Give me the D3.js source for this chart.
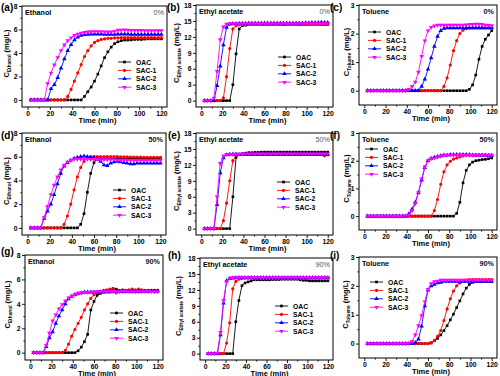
<!DOCTYPE html>
<html>
<head>
<meta charset="utf-8">
<script src="https://cdn.jsdelivr.net/npm/d3@7"></script>
<style>
  body { margin: 0; background: #fff; }
  svg { display: block; font-family: "Liberation Sans", Arial, sans-serif; font-weight: bold; }
</style>
</head>
<body>
<svg id="chart" width="500" height="376"></svg>
<script>
"use strict";

// sampling times (min), shared by every curve
var times = [3,6,9,12,15,18,21,24,27,30,33,36,39,42,45,48,51,54,57,60,
             63,66,69,72,75,78,81,84,87,90,93,96,99,102,105,108,111,114,117,120];
var seriesNames = ["OAC", "SAC-1", "SAC-2", "SAC-3"];
var seriesColors = ["#000000", "#ff0000", "#0000ff", "#ff00ff"];
var panelLabels = ["(a)", "(b)", "(c)", "(d)", "(e)", "(f)", "(g)", "(h)", "(i)"];
var humidity = ["0%", "0%", "0%", "50%", "50%", "50%", "90%", "90%", "90%"];
var xTicks = [0, 20, 40, 60, 80, 100, 120];
var ethanolTicks = [0, 2, 4, 6, 8];
var ethylTicks = [0, 3, 6, 9, 12, 15, 18];
var tolueneTicks = [0, 1, 2, 3];

// (a) ethanol, 0%
var eth0_OAC  = [0,0,0,0,0,0,0,0,0,0,0,0,0,0,0,0,0.3,0.7,1.1,1.6,2.2,2.9,3.6,4.1,4.5,4.8,4.95,5.05,5.1,5.1,5.12,5.15,5.15,5.15,5.18,5.2,5.2,5.2,5.2,5.2];
var eth0_SAC1 = [0,0,0,0,0,0,0,0,0,0,0,0.3,0.9,1.6,2.3,3.0,3.7,4.2,4.6,4.9,5.05,5.15,5.2,5.25,5.25,5.28,5.28,5.3,5.3,5.3,5.3,5.3,5.3,5.3,5.3,5.3,5.3,5.3,5.3,5.3];
var eth0_SAC2 = [0,0,0,0,0,0,0.95,1.3,1.9,2.7,3.5,4.2,4.7,5.1,5.35,5.5,5.55,5.58,5.6,5.6,5.6,5.6,5.58,5.58,5.58,5.58,5.6,5.6,5.6,5.6,5.58,5.58,5.58,5.58,5.58,5.58,5.58,5.58,5.58,5.58];
var eth0_SAC3 = [0,0,0,0,0,1.4,2.3,3.0,3.6,4.2,4.7,5.05,5.3,5.5,5.6,5.7,5.75,5.8,5.82,5.82,5.83,5.83,5.8,5.8,5.8,5.85,5.95,5.95,5.97,5.95,5.93,5.93,5.92,5.92,5.9,5.9,5.9,5.9,5.9,5.9];

// (b) ethyl acetate, 0%
var eac0_OAC  = [0,0,0,0,0,0,0,0,0,3.0,8.8,13.5,14.1,14.2,14.3,14.3,14.3,14.3,14.3,14.3,14.3,14.3,14.3,14.3,14.3,14.3,14.3,14.3,14.3,14.3,14.3,14.3,14.3,14.3,14.3,14.3,14.3,14.3,14.3,14.3];
var eac0_SAC1 = [0,0,0,0,0,0,0.5,4.5,9.8,13.5,14.1,14.3,14.35,14.35,14.35,14.35,14.35,14.35,14.35,14.35,14.35,14.35,14.35,14.35,14.35,14.35,14.35,14.35,14.35,14.35,14.35,14.35,14.35,14.35,14.35,14.35,14.35,14.35,14.35,14.35];
var eac0_SAC2 = [0,0,0,0,2.8,6.5,10.5,13.8,14.4,14.5,14.5,14.55,14.55,14.55,14.6,14.6,14.6,14.6,14.6,14.6,14.6,14.6,14.6,14.6,14.6,14.6,14.6,14.6,14.6,14.6,14.6,14.6,14.65,14.65,14.7,14.7,14.7,14.75,14.7,14.7];
var eac0_SAC3 = [0,0,0,0.5,5.5,11.5,13.9,14.4,14.5,14.5,14.5,14.5,14.5,14.5,14.5,14.5,14.5,14.5,14.5,14.5,14.5,14.5,14.5,14.5,14.5,14.5,14.5,14.5,14.5,14.5,14.5,14.5,14.5,14.5,14.5,14.5,14.5,14.5,14.5,14.5];

// (c) toluene, 0%
var tol0_OAC  = [0,0,0,0,0,0,0,0,0,0,0,0,0,0,0,0,0,0,0,0,0,0,0,0,0,0,0,0,0,0,0,0,0.05,0.2,0.55,1.1,1.55,1.8,1.95,2.1];
var tol0_SAC1 = [0,0,0,0,0,0,0,0,0,0,0,0,0,0,0,0,0,0,0,0,0,0,0,0,0.15,0.45,0.9,1.4,1.75,2.0,2.12,2.18,2.2,2.2,2.2,2.2,2.2,2.2,2.2,2.2];
var tol0_SAC2 = [0,0,0,0,0,0,0,0,0,0,0,0,0,0,0,0,0,0.15,0.4,0.75,1.15,1.55,1.9,2.1,2.18,2.2,2.2,2.2,2.2,2.2,2.2,2.2,2.2,2.2,2.2,2.2,2.2,2.2,2.2,2.2];
var tol0_SAC3 = [0,0,0,0,0,0,0,0,0,0,0,0,0,0.05,0.15,0.3,0.65,1.2,1.75,2.1,2.22,2.27,2.3,2.3,2.3,2.3,2.3,2.3,2.3,2.3,2.3,2.31,2.32,2.32,2.33,2.33,2.32,2.3,2.29,2.28];

// (d) ethanol, 50%
var eth50_OAC  = [0,0,0,0,0,0,0,0,0,0,0,0,0,0,0,0.3,1.2,3.0,4.6,5.5,5.9,5.85,5.85,5.85,5.85,5.85,5.85,5.85,5.85,5.85,5.85,5.85,5.85,5.85,5.85,5.85,5.85,5.85,5.85,5.85];
var eth50_SAC1 = [0,0,0,0,0,0,0,0,0,0,0.3,1.0,2.0,3.2,4.3,5.1,5.6,5.9,6.0,6.0,6.0,6.0,6.0,6.0,6.0,6.0,6.0,5.98,5.98,5.98,5.97,5.97,5.96,5.96,5.95,5.95,5.95,5.95,5.95,5.95];
var eth50_SAC2 = [0,0,0,0,0.8,1.4,2.0,2.8,3.7,4.6,5.2,5.5,5.7,5.85,5.95,6.0,6.05,6.0,5.95,5.9,5.8,5.6,5.3,5.25,5.45,5.55,5.6,5.55,5.5,5.45,5.4,5.4,5.45,5.45,5.45,5.45,5.45,5.45,5.45,5.45];
var eth50_SAC3 = [0,0,0,0,0.9,1.8,2.8,3.6,4.3,4.9,5.3,5.55,5.7,5.8,5.8,5.8,5.8,5.8,5.78,5.78,5.78,5.75,5.75,5.75,5.75,5.75,5.72,5.72,5.72,5.72,5.7,5.7,5.7,5.7,5.7,5.7,5.7,5.7,5.7,5.7];

// (e) ethyl acetate, 50%
var eac50_OAC  = [0,0,0,0,0,0,0,0,0,6.0,13.4,14.0,14.1,14.2,14.3,14.3,14.35,14.35,14.4,14.4,14.4,14.4,14.4,14.4,14.4,14.4,14.4,14.4,14.4,14.4,14.4,14.4,14.4,14.4,14.4,14.4,14.4,14.4,14.4,14.4];
var eac50_SAC1 = [0,0,0,0,0,0,1.5,4.8,9.0,12.8,13.8,14.0,14.0,14.0,14.0,14.0,14.0,14.0,14.0,14.0,14.0,14.0,14.0,14.0,14.0,14.0,14.0,14.0,14.0,14.0,14.0,14.0,14.0,14.0,14.0,14.0,14.0,14.0,13.7,13.9];
var eac50_SAC2 = [0,0,0,0,4.5,10.5,13.3,13.9,14.0,14.0,14.0,13.95,13.95,13.95,13.9,13.9,13.9,13.9,13.9,13.9,13.9,13.9,13.9,13.9,13.9,13.9,13.9,13.9,13.9,13.9,13.9,13.9,13.9,13.9,13.9,13.9,13.9,13.9,13.9,13.9];
var eac50_SAC3 = [0,0,0,0,6.0,12.3,13.7,14.0,14.0,14.0,14.05,14.05,14.05,14.1,14.1,14.1,14.1,14.1,14.1,14.1,14.1,14.1,14.1,14.1,14.1,14.1,14.1,14.1,14.1,14.1,14.1,14.1,14.1,14.1,14.1,14.1,14.1,14.1,14.1,14.1];

// (f) toluene, 50%
var tol50_OAC  = [0,0,0,0,0,0,0,0,0,0,0,0,0,0,0,0,0,0,0,0,0,0,0,0,0,0,0,0,0.1,0.5,1.2,1.65,1.85,1.95,2.0,2.02,2.04,2.05,2.07,2.1];
var tol50_SAC1 = [0,0,0,0,0,0,0,0,0,0,0,0,0,0,0,0,0,0,0,0,0,0.2,0.6,1.15,1.6,1.85,1.98,2.06,2.1,2.14,2.17,2.2,2.2,2.2,2.2,2.2,2.2,2.2,2.2,2.2];
var tol50_SAC2 = [0,0,0,0,0,0,0,0,0,0,0,0,0,0.08,0.25,0.5,0.85,1.3,1.75,2.0,2.08,2.12,2.15,2.17,2.2,2.2,2.22,2.22,2.22,2.22,2.22,2.22,2.22,2.2,2.2,2.2,2.2,2.2,2.18,2.18];
var tol50_SAC3 = [0,0,0,0,0,0,0,0,0,0,0,0,0.02,0.05,0.2,0.45,0.85,1.35,1.78,2.0,2.08,2.1,2.13,2.17,2.2,2.2,2.2,2.2,2.2,2.2,2.2,2.2,2.2,2.2,2.2,2.2,2.2,2.2,2.2,2.2];

// (g) ethanol, 90%
var eth90_OAC  = [0,0,0,0,0,0,0,0,0,0,0,0,0,0,0.15,0.45,0.9,1.5,3.5,4.2,4.7,4.85,4.95,5.0,5.1,5.25,5.2,5.1,5.1,5.1,5.1,5.1,5.1,5.1,5.1,5.1,5.1,5.1,5.1,5.1];
var eth90_SAC1 = [0,0,0,0,0,0,0,0,0,0,0.2,0.7,1.35,1.9,2.4,2.9,3.5,4.0,4.45,4.75,4.9,5.0,5.1,5.15,5.2,5.2,4.9,5.1,5.15,5.1,5.15,5.2,5.15,5.2,5.15,5.1,5.1,5.05,5.0,5.0];
var eth90_SAC2 = [0,0,0,0,0.5,1.2,1.7,2.4,3.0,3.5,4.0,4.4,4.6,4.75,4.85,4.9,4.95,4.95,4.95,4.95,4.95,4.97,4.97,4.97,4.97,5.0,5.0,5.0,5.0,5.0,5.0,5.0,5.0,5.0,5.02,5.02,5.02,5.05,5.05,5.05];
var eth90_SAC3 = [0,0,0,0,0.6,1.6,2.6,3.1,3.6,3.95,4.25,4.5,4.65,4.75,4.85,4.9,4.95,4.95,4.97,4.97,5.0,5.0,5.0,5.0,5.0,5.0,5.0,5.0,5.0,5.0,5.0,5.0,5.0,5.0,5.0,5.0,5.0,5.0,5.0,5.0];

// (h) ethyl acetate, 90%
var eac90_OAC  = [0,0,0,0,0,0,0,0,0,6.0,10.0,12.8,13.3,13.5,13.7,13.9,13.9,13.9,13.9,13.9,13.9,13.95,13.95,13.95,14.0,14.0,14.0,14.0,14.0,14.0,13.9,13.8,13.8,13.7,13.7,13.7,13.7,13.7,13.7,13.7];
var eac90_SAC1 = [0,0,0,0,0,0,2.0,5.8,12.2,13.6,14.0,14.1,14.2,14.2,14.2,14.2,14.2,14.2,14.2,14.2,14.2,14.2,14.2,14.2,14.2,14.2,14.2,14.2,14.2,14.2,14.2,14.2,14.2,14.2,14.2,14.2,14.2,14.2,14.2,14.2];
var eac90_SAC2 = [0,0,0,0,3.5,9.5,13.7,14.1,14.2,14.3,14.3,14.3,14.3,14.3,14.3,14.3,14.3,14.3,14.3,14.3,14.3,14.3,14.3,14.3,14.3,14.3,14.3,14.3,14.3,14.3,14.3,14.3,14.3,14.3,14.3,14.3,14.3,14.3,14.3,14.3];
var eac90_SAC3 = [0,0,0,0.1,4.0,10.0,13.5,14.2,14.3,14.3,14.3,14.3,14.3,14.3,14.3,14.3,14.3,14.3,14.3,14.3,14.3,14.3,14.3,14.3,14.3,14.3,14.3,14.3,14.3,14.3,14.3,14.3,14.3,14.3,14.3,14.3,14.3,14.3,14.3,14.3];

// (i) toluene, 90%
var tol90_OAC  = [0,0,0,0,0,0,0,0,0,0,0,0,0,0,0,0,0,0,0,0,0.02,0.1,0.18,0.3,0.45,0.62,0.82,1.02,1.25,1.48,1.72,1.92,2.05,2.12,2.15,2.15,2.15,2.15,2.15,2.15];
var tol90_SAC1 = [0,0,0,0,0,0,0,0,0,0,0,0,0,0,0,0,0,0,0,0,0.03,0.1,0.25,0.45,0.8,1.2,1.55,1.82,2.0,2.1,2.17,2.2,2.22,2.22,2.22,2.22,2.22,2.22,2.22,2.22];
var tol90_SAC2 = [0,0,0,0,0,0,0,0,0,0,0,0,0,0,0,0.03,0.15,0.6,1.3,1.85,2.0,2.05,2.1,2.12,2.15,2.15,2.15,2.15,2.15,2.15,2.15,2.15,2.15,2.15,2.15,2.15,2.15,2.15,2.15,2.15];
var tol90_SAC3 = [0,0,0,0,0,0,0,0,0,0,0,0,0,0.02,0.08,0.3,0.62,0.97,1.45,1.88,2.08,2.15,2.17,2.2,2.2,2.2,2.2,2.2,2.2,2.2,2.2,2.2,2.2,2.2,2.2,2.2,2.2,2.2,2.2,2.2];

// layout of the nine panels: frame box [left, top, right, bottom], legend anchor, y label x
var panels = [
  {frame: [22, 6, 167, 107],    gas: "Ethanol",       yTicks: ethanolTicks, yDom: [-0.6, 8],  minor: 1,   legend: [118, 62],  yLabX: 9,   series: [eth0_OAC, eth0_SAC1, eth0_SAC2, eth0_SAC3],     pctBold: false},
  {frame: [196, 5, 333, 107],   gas: "Ethyl acetate", yTicks: ethylTicks,   yDom: [-1.2, 18], minor: 1.5, legend: [278, 57],  yLabX: 179, series: [eac0_OAC, eac0_SAC1, eac0_SAC2, eac0_SAC3],     pctBold: false},
  {frame: [359, 5, 497, 105],   gas: "Toluene",       yTicks: tolueneTicks, yDom: [-0.5, 3],  minor: 0.5, legend: [368, 32],  yLabX: 349, series: [tol0_OAC, tol0_SAC1, tol0_SAC2, tol0_SAC3],     pctBold: true},
  {frame: [22, 133, 166, 235],  gas: "Ethanol",       yTicks: ethanolTicks, yDom: [-0.6, 8],  minor: 1,   legend: [113, 190], yLabX: 9,   series: [eth50_OAC, eth50_SAC1, eth50_SAC2, eth50_SAC3], pctBold: true},
  {frame: [196, 133, 333, 235], gas: "Ethyl acetate", yTicks: ethylTicks,   yDom: [-1.2, 18], minor: 1.5, legend: [277, 182], yLabX: 179, series: [eac50_OAC, eac50_SAC1, eac50_SAC2, eac50_SAC3], pctBold: false},
  {frame: [359, 133, 497, 230], gas: "Toluene",       yTicks: tolueneTicks, yDom: [-0.5, 3],  minor: 0.5, legend: [365, 149], yLabX: 349, series: [tol50_OAC, tol50_SAC1, tol50_SAC2, tol50_SAC3], pctBold: true},
  {frame: [25, 255, 163, 360],  gas: "Ethanol",       yTicks: ethanolTicks, yDom: [-0.6, 8],  minor: 1,   legend: [110, 313], yLabX: 10,  series: [eth90_OAC, eth90_SAC1, eth90_SAC2, eth90_SAC3], pctBold: true},
  {frame: [200, 258, 333, 360], gas: "Ethyl acetate", yTicks: ethylTicks,   yDom: [-1.2, 18], minor: 1.5, legend: [275, 306], yLabX: 181, series: [eac90_OAC, eac90_SAC1, eac90_SAC2, eac90_SAC3], pctBold: false},
  {frame: [359, 257, 497, 358], gas: "Toluene",       yTicks: tolueneTicks, yDom: [-0.5, 3],  minor: 0.5, legend: [370, 282], yLabX: 348, series: [tol90_OAC, tol90_SAC1, tol90_SAC2, tol90_SAC3], pctBold: true}
];
var panelLabelPos = [[1, 11], [167, 11], [330, 11], [1, 139], [168, 139], [330, 139], [1, 255], [168, 259], [330, 259]];

var svg = d3.select("#chart");
var markerTypes = [d3.symbolSquare, d3.symbolCircle, d3.symbolTriangle, d3.symbolTriangle];
var markerSizes = [7, 8, 9, 9];
var markerRotate = [0, 0, 0, 180];

function drawPanel(p, idx) {
  var L = p.frame[0], T = p.frame[1], R = p.frame[2], B = p.frame[3];
  var x = d3.scaleLinear().domain([-5, 125]).range([L, R]);
  var y = d3.scaleLinear().domain(p.yDom).range([B, T]);
  var g = svg.append("g");

  // minor ticks
  var xMinor = d3.range(10, 120, 20);
  var yMinor = [];
  for (var i = 0; i < p.yTicks.length - 1; i++) yMinor.push(p.yTicks[i] + p.minor);

  g.append("g").attr("transform", "translate(0," + B + ")")
    .call(d3.axisBottom(x).tickValues(xTicks).tickFormat(d3.format("d"))
      .tickSize(3).tickSizeOuter(0).tickPadding(1));
  g.append("g").attr("transform", "translate(0," + B + ")")
    .call(d3.axisBottom(x).tickValues(xMinor).tickSize(1.6).tickSizeOuter(0).tickFormat(""));
  g.append("g").attr("transform", "translate(" + L + ",0)")
    .call(d3.axisLeft(y).tickValues(p.yTicks).tickFormat(d3.format("d"))
      .tickSize(3).tickSizeOuter(0).tickPadding(1.5));
  g.append("g").attr("transform", "translate(" + L + ",0)")
    .call(d3.axisLeft(y).tickValues(yMinor).tickSize(1.6).tickSizeOuter(0).tickFormat(""));
  g.selectAll(".domain").remove();
  g.selectAll(".tick line").attr("stroke", "#000").attr("stroke-width", 0.9);
  g.selectAll(".tick text").attr("font-size", 6.8).attr("font-weight", "bold")
    .attr("font-family", "Liberation Sans, Arial, sans-serif").attr("fill", "#000");

  // curves
  var line = d3.line().x(function (d) { return x(d[0]); }).y(function (d) { return y(d[1]); });
  p.series.forEach(function (vals, s) {
    var pts = times.map(function (t, k) { return [t, vals[k]]; });
    g.append("path").datum(pts).attr("d", line)
      .attr("fill", "none").attr("stroke", seriesColors[s]).attr("stroke-width", 0.9);
    g.selectAll(".m" + s).data(pts).enter().append("path")
      .attr("class", "m" + s)
      .attr("d", d3.symbol().type(markerTypes[s]).size(markerSizes[s]))
      .attr("transform", function (d) {
        return "translate(" + x(d[0]) + "," + y(d[1]) + ") rotate(" + markerRotate[s] + ")";
      })
      .attr("fill", seriesColors[s]);
  });

  // frame
  g.append("rect").attr("x", L).attr("y", T).attr("width", R - L).attr("height", B - T)
    .attr("fill", "none").attr("stroke", "#000").attr("stroke-width", 1);

  // inside labels
  g.append("text").attr("x", L + 3).attr("y", T + 9).attr("font-size", 7.2).text(p.gas);
  g.append("text").attr("x", R - 3).attr("y", T + 9).attr("font-size", 7.2)
    .attr("text-anchor", "end")
    .attr("font-weight", p.pctBold ? "bold" : "normal")
    .attr("fill", p.pctBold ? "#111" : "#555")
    .text(humidity[idx]);

  // legend
  seriesNames.forEach(function (name, s) {
    var ly = p.legend[1] + s * 8.4;
    var lx = p.legend[0];
    g.append("line").attr("x1", lx).attr("x2", lx + 13).attr("y1", ly).attr("y2", ly)
      .attr("stroke", seriesColors[s]).attr("stroke-width", 0.9);
    g.append("path")
      .attr("d", d3.symbol().type(markerTypes[s]).size(markerSizes[s]))
      .attr("transform", "translate(" + (lx + 6.5) + "," + ly + ") rotate(" + markerRotate[s] + ")")
      .attr("fill", seriesColors[s]);
    g.append("text").attr("x", lx + 18).attr("y", ly + 2.5).attr("font-size", 6.8).text(name);
  });

  // axis titles
  g.append("text").attr("x", (L + R) / 2 + 3).attr("y", B + 15.5).attr("text-anchor", "middle")
    .attr("font-size", 7.5).text("Time (min)");
  var yl = g.append("text")
    .attr("transform", "translate(" + p.yLabX + "," + ((T + B) / 2 - 3) + ") rotate(-90)")
    .attr("text-anchor", "middle").attr("font-size", 7.5);
  yl.append("tspan").text("C");
  yl.append("tspan").attr("font-size", 4.8).attr("dy", 1.8).text(p.gas);
  yl.append("tspan").attr("dy", -1.8).text(" (mg/L)");

  // panel letter
  svg.append("text").attr("x", panelLabelPos[idx][0]).attr("y", panelLabelPos[idx][1])
    .attr("font-size", 10).text(panelLabels[idx]);
}

panels.forEach(drawPanel);
</script>
</body>
</html>
